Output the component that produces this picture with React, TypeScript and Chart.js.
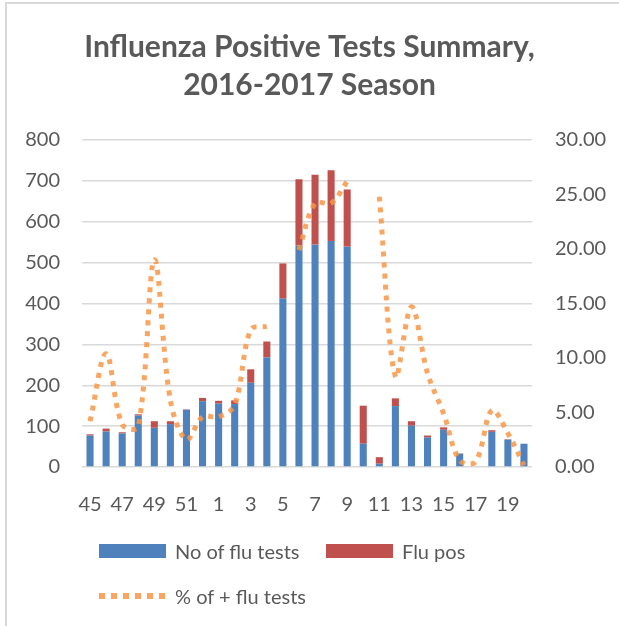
import React, { useEffect, useRef } from "react";
import { Chart, registerables } from "chart.js";

Chart.register(...registerables);

const weeks: string[] = [
  "45", "46", "47", "48", "49", "50", "51", "52",
  "1", "2", "3", "4", "5", "6", "7", "8", "9", "10",
  "11", "12", "13", "14", "15", "16", "17", "18", "19", "20",
];

const fluTests: number[] = [
  77, 87, 82, 126, 96, 105, 140, 161,
  155, 154, 206, 268, 412, 542, 544, 553, 539, 57,
  8, 149, 101, 72, 91, 33, 0, 86, 67, 57,
];

const fluPos: number[] = [
  3, 7, 3, 3, 16, 7, 1, 8,
  7, 9, 33, 39, 86, 162, 171, 173, 140, 93,
  16, 19, 11, 5, 6, 0, 0, 4, 1, 0,
];

const pctPositive: (number | null)[] = [
  4.2, 10.4, 3.9, 3.7, 19.0, 6.1, 2.5, 4.6,
  4.6, 5.7, 12.6, 12.9, null, 19.9, 24.2, 24.2, 26.2, null,
  24.8, 8.3, 14.7, 8.6, 4.9, 0.6, 0.5, 5.2, 3.1, 0.15,
];

const titleLines: string[] = ["Influenza Positive Tests Summary,", "2016-2017 Season"];

const BLUE = "#4F81BD";
const RED = "#C0504D";
const ORANGE = "rgba(247,150,70,0.85)";
const TEXT = "#595959";
const GRID = "#d9d9d9";
const FONT = "Lato";

export default function App() {
  const ref = useRef<HTMLCanvasElement | null>(null);

  useEffect(() => {
    if (!ref.current) return;
    const chart = new Chart(ref.current, {
      type: "bar",
      data: {
        labels: weeks,
        datasets: [
          {
            type: "bar",
            label: "No of flu tests",
            data: fluTests,
            backgroundColor: BLUE,
            yAxisID: "y",
            stack: "s",
            order: 1,
            barPercentage: 0.44,
            categoryPercentage: 1,
          },
          {
            type: "bar",
            label: "Flu pos",
            data: fluPos,
            backgroundColor: RED,
            yAxisID: "y",
            stack: "s",
            order: 1,
            barPercentage: 0.44,
            categoryPercentage: 1,
          },
          {
            type: "line",
            label: "% of + flu tests",
            data: pctPositive,
            borderColor: ORANGE,
            borderWidth: 5,
            borderDash: [5, 6],
            borderCapStyle: "butt",
            pointRadius: 0,
            tension: 0.35,
            spanGaps: false,
            fill: false,
            yAxisID: "y1",
            order: 0,
          },
        ],
      },
      options: {
        responsive: false,
        animation: false,
        devicePixelRatio: 1,
        layout: { padding: { left: 0, right: 0, top: 0, bottom: 109 } },
        plugins: {
          legend: { display: false },
          tooltip: { enabled: false },
          title: {
            display: true,
            text: titleLines,
            color: TEXT,
            font: { family: FONT, size: 30, weight: "bold", lineHeight: 38 / 30 },
            padding: { top: 28, bottom: 36 },
          },
        },
        scales: {
          x: {
            stacked: true,
            grid: { display: false },
            border: { display: false },
            ticks: {
              autoSkip: false,
              maxRotation: 0,
              color: TEXT,
              padding: 18,
              font: { family: FONT, size: 20 },
              callback: (_v: any, i: number) => (i % 2 === 0 ? weeks[i] : ""),
            },
            afterFit: (s: any) => {
              s.height = 50;
            },
          },
          y: {
            stacked: true,
            position: "left",
            min: 0,
            max: 800,
            ticks: {
              stepSize: 100,
              color: TEXT,
              padding: 22,
              font: { family: FONT, size: 20 },
            },
            grid: { color: GRID, lineWidth: 1.5, drawTicks: false },
            border: { display: false },
            afterFit: (s: any) => {
              s.width = 82;
            },
          },
          y1: {
            position: "right",
            min: 0,
            max: 30,
            ticks: {
              stepSize: 5,
              color: TEXT,
              padding: 23,
              font: { family: FONT, size: 20 },
              callback: (v: any) => Number(v).toFixed(2),
            },
            grid: { display: false, drawTicks: false },
            border: { display: false },
            afterFit: (s: any) => {
              s.width = 87;
            },
          },
        },
      },
    });
    return () => chart.destroy();
  }, []);

  const legendText: React.CSSProperties = {
    position: "absolute",
    fontFamily: FONT,
    fontSize: 20,
    color: TEXT,
    lineHeight: "24px",
    whiteSpace: "nowrap",
  };

  return (
    <div style={{ position: "fixed", left: 0, top: 0, width: 619, height: 626, background: "#fff", overflow: "hidden" }}>
      <div
        style={{
          position: "absolute",
          left: 5,
          top: 2,
          width: 700,
          height: 700,
          borderLeft: `2px solid ${GRID}`,
          borderTop: `2px solid ${GRID}`,
        }}
      />
      <canvas ref={ref} width={619} height={626} style={{ position: "absolute", left: 0, top: 0 }} />
      <div style={{ position: "absolute", left: 99, top: 544, width: 67, height: 14, background: BLUE }} />
      <div style={{ ...legendText, left: 175, top: 539 }}>No of flu tests</div>
      <div style={{ position: "absolute", left: 326, top: 544, width: 67, height: 14, background: RED }} />
      <div style={{ ...legendText, left: 402, top: 539 }}>Flu pos</div>
      <div
        style={{
          position: "absolute",
          left: 99,
          top: 593,
          width: 67,
          height: 6,
          background: `repeating-linear-gradient(to right, ${ORANGE} 0px, ${ORANGE} 6px, transparent 6px, transparent 12px)`,
        }}
      />
      <div style={{ ...legendText, left: 175, top: 584 }}>% of + flu tests</div>
    </div>
  );
}
